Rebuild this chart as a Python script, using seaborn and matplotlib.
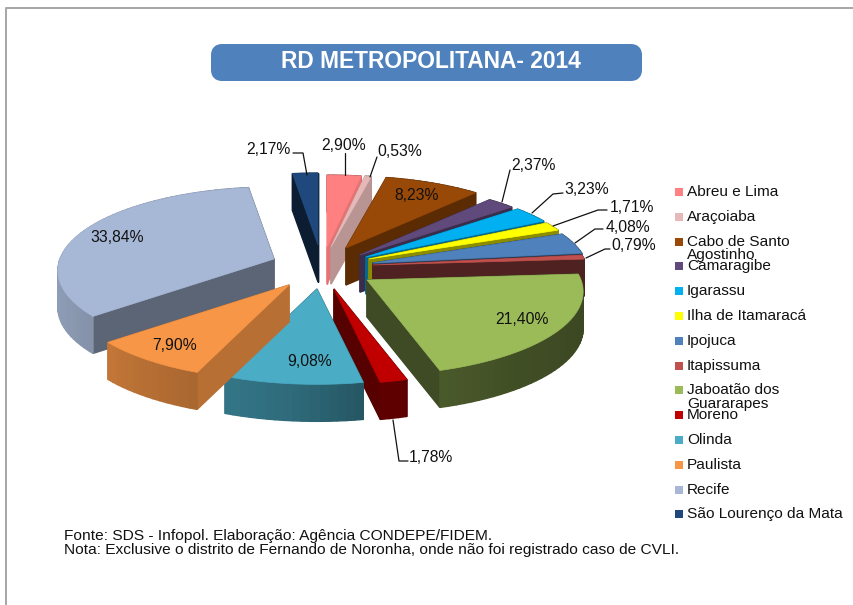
import numpy as np
import matplotlib
matplotlib.use("Agg")
import matplotlib.pyplot as plt
from matplotlib.patches import FancyBboxPatch
import seaborn as sns

categories = ["Abreu e Lima", "Araçoiaba", "Cabo de Santo\nAgostinho", "Camaragibe", "Igarassu",
              "Ilha de Itamaracá", "Ipojuca", "Itapissuma", "Jaboatão dos\nGuararapes", "Moreno",
              "Olinda", "Paulista", "Recife", "São Lourenço da Mata"]
values = [2.90, 0.53, 8.23, 2.37, 3.23, 1.71, 4.08, 0.79, 21.40, 1.78, 9.08, 7.90, 33.84, 2.17]
colors = ["#FF8080", "#E6B9B8", "#984807", "#604A7B", "#00B0F0", "#FFFF00", "#4F81BD",
          "#C0504D", "#9BBB59", "#C00000", "#4BACC6", "#F79646", "#A7B8D6", "#1F497D"]

title = "RD METROPOLITANA- 2014"
source = "Fonte: SDS - Infopol. Elaboração: Agência CONDEPE/FIDEM."
note = "Nota: Exclusive o distrito de Fernando de Noronha, onde não foi registrado caso de CVLI."

# where each slice was pulled to, in px from the pie centre
shift_x = [7, 11, 26, 40, 46, 49, 53, 53, 47, 14, -3, -31, -46, -2]
shift_y = [-18, -18, -17, -10, -8, -6, -2, 0, 15, 24, 24, 20, -6, -20]
wall_shade = [0.9, 0.8, 0.6, 0.6, 0.6, 0.55, 0.55, 0.41, 0.4, 0.45, 0.6, 0.74, 0.55, 0.4]
draw_order = [12, 13, 0, 1, 2, 3, 4, 5, 6, 7, 8, 9, 10, 11]

# label centres, px
label_x = [344, 400, 417, 533, 587, 632, 628, 634, 522, 431, 310, 175, 117, 268]
label_y = [146, 151, 196, 166, 189, 208, 227, 245, 320, 457, 362, 346, 237, 149]
leaders = {
    0: [(345, 153), (345, 175)],
    1: [(377, 157), (370, 177)],
    3: [(510, 170), (502, 202)],
    4: [(563, 193), (553, 194), (532, 213)],
    5: [(607, 210), (598, 210), (553, 226)],
    6: [(603, 229), (595, 229), (575, 243)],
    7: [(610, 249), (605, 249), (586, 258)],
    9: [(393, 420), (399, 461), (408, 461)],
    13: [(293, 153), (303, 153), (307, 175)],
}

CX, CY = 320, 265
RX, RY = 214, 82
PERSP = 0.14
DEPTH = 37

sns.set_theme(style="white")
plt.rcParams["font.family"] = ["Liberation Sans", "DejaVu Sans"]
palette = sns.color_palette(colors)

fig = plt.figure(figsize=(8.54, 6.05), dpi=100)
ax = fig.add_axes([0, 0, 1, 1])

wedges, _ = ax.pie(values, startangle=90, counterclock=False)
angles = [(w.theta1, w.theta2) for w in wedges]
for w in wedges:
    w.remove()

ax.set_aspect("auto")
ax.set_xlim(0, 854)
ax.set_ylim(605, 0)
ax.axis("off")


def project(u, v, ox, oy):
    s = 1 / (1 + PERSP * v)
    return ox + RX * u * s, oy - RY * v * s


def arc_shade(u):
    return np.interp(u, [-1, -0.6, -0.1, 0.18, 0.6, 1], [0.86, 0.74, 0.62, 0.5, 0.42, 0.38])


def dark(c, f):
    return tuple(np.array(c) * f)


for rank, i in enumerate(draw_order):
    t1, t2 = angles[i]
    ox, oy = CX + shift_x[i], CY + shift_y[i]
    n = max(int((t2 - t1) / 2), 2)
    th = np.radians(np.linspace(t1, t2, n + 1))
    u, v = np.cos(th), np.sin(th)
    px, py = project(u, v, ox, oy)

    walls = []
    for j in [0, n]:
        walls.append(([ox, px[j], px[j], ox], [oy, py[j], py[j] + DEPTH, oy + DEPTH],
                      dark(palette[i], wall_shade[i])))
    for j in range(n):
        um = (u[j] + u[j + 1]) / 2
        walls.append(([px[j], px[j + 1], px[j + 1], px[j]],
                      [py[j], py[j + 1], py[j + 1] + DEPTH, py[j] + DEPTH],
                      dark(palette[i], arc_shade(um))))
    walls.sort(key=lambda w: np.mean(w[1]))
    for wx, wy, wc in walls:
        ax.fill(wx, wy, color=wc, lw=1.0, zorder=2 + rank * 0.1)

    ax.fill(np.r_[ox, px], np.r_[oy, py], facecolor=palette[i],
            edgecolor=palette[i], lw=0.5, zorder=2.05 + rank * 0.1)

for i, v in enumerate(values):
    ax.text(label_x[i], label_y[i], f"{v:.2f}%".replace(".", ","), fontsize=11.3,
            ha="center", va="center", color="#111111", zorder=5)

for pts in leaders.values():
    ax.plot([p[0] for p in pts], [p[1] for p in pts], color="#111111", lw=0.9, zorder=4)

# legend rows, the wrapped names run into the next row like the original
for i, name in enumerate(categories):
    y = 192 + i * 24.8
    ax.fill([675, 683, 683, 675], [y - 4, y - 4, y + 4, y + 4], color=palette[i], lw=0)
    ax.text(687, y - 7, name, fontsize=11.1, va="top", ha="left", color="#111111", linespacing=0.95)

box = FancyBboxPatch((216, 49), 421, 27, boxstyle="round,pad=0,rounding_size=6",
                     facecolor="#4F81BD", edgecolor="#4F81BD", lw=10 * 0.72, joinstyle="round")
ax.add_patch(box)
ax.text(430.5, 62, title, fontsize=16.4, fontweight="bold", color="white", ha="center", va="center")

ax.text(64, 536, source, fontsize=11.15, color="#111111", va="center")
ax.text(64, 550, note, fontsize=11.15, color="#111111", va="center")

ax.plot([854, 6, 6], [8, 8, 605], color="#A6A6A6", lw=1.4, clip_on=False)

fig.savefig("out.png", dpi=100)
plt.close(fig)
